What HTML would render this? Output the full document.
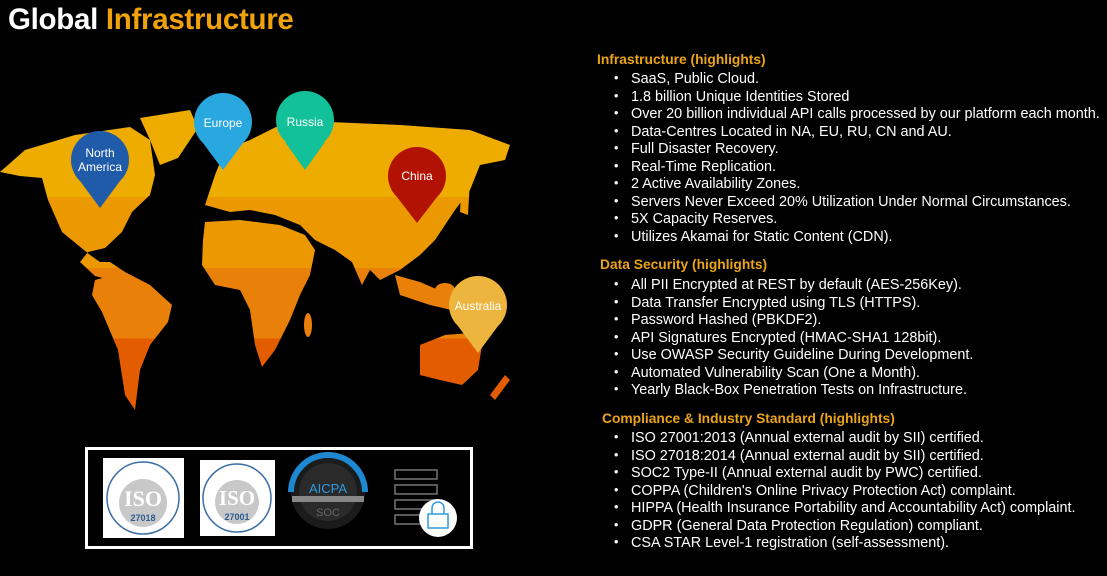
<!DOCTYPE html>
<html><head><meta charset="utf-8"><style>
body{margin:0;width:1107px;height:576px;background:#000;overflow:hidden;position:relative;font-family:"Liberation Sans",Arial,sans-serif;color:#fff}
.t{position:absolute;left:8px;top:3px;font-size:29.5px;font-weight:bold;letter-spacing:-0.3px}
.t span{color:#F0A20A}
.h{position:absolute;font-size:13.8px;font-weight:bold;color:#EBA318;white-space:nowrap}
ul{position:absolute;left:612px;margin:0;padding:0;list-style:none;font-size:14.4px;line-height:17.5px;white-space:nowrap}
li{position:relative;padding-left:19px}
li:before{content:"•";position:absolute;left:2px;top:-1px;font-size:12.5px;line-height:17.5px}
</style></head><body>
<div class="t">Global <span>Infrastructure</span></div>
<svg width="600" height="576" style="position:absolute;left:0;top:0">
<defs><linearGradient id="g" gradientUnits="userSpaceOnUse" x1="0" y1="80" x2="0" y2="420">
<stop offset="0" stop-color="#EFAC00"/><stop offset="0.344" stop-color="#EFAC00"/>
<stop offset="0.344" stop-color="#EC9800"/><stop offset="0.553" stop-color="#EC9800"/>
<stop offset="0.553" stop-color="#E8800A"/><stop offset="0.76" stop-color="#E8800A"/>
<stop offset="0.76" stop-color="#E35C00"/><stop offset="1" stop-color="#E35C00"/></linearGradient></defs>
<g fill="url(#g)">
<path d="M0,172 L25,150 L75,135 L130,127 L150,140 L155,175 L150,195 L132,212 L122,232 L105,248 L88,252 L80,262 L95,276 L118,282 L125,272 L110,262 L100,262 L90,255 L62,232 L48,200 L42,178 L20,176 Z"/>
<path d="M140,118 L190,110 L198,128 L178,158 L160,165 L150,140 Z"/>
<path d="M95,280 L125,272 L150,285 L172,305 L168,322 L150,345 L140,370 L135,410 L125,395 L118,350 L102,312 L92,295 Z"/>
<path d="M205,205 L215,175 L225,150 L250,140 L280,125 L330,122 L400,125 L470,130 L510,145 L505,160 L480,165 L470,190 L455,210 L445,225 L435,240 L420,255 L400,270 L380,280 L370,270 L362,285 L352,262 L335,250 L315,240 L300,225 L275,215 L250,210 L230,212 Z"/>
<path d="M205,222 L240,220 L280,225 L305,235 L315,250 L310,275 L300,295 L290,320 L275,350 L262,367 L255,345 L250,310 L240,290 L215,285 L202,265 L203,240 Z"/>
<ellipse cx="308" cy="325" rx="4" ry="12"/>
<path d="M395,275 L420,282 L450,295 L460,312 L430,305 L400,295 Z"/>
<ellipse cx="445" cy="290" rx="10" ry="7"/>
<path d="M420,345 L445,335 L470,333 L482,345 L478,370 L462,385 L440,380 L420,375 Z"/>
<path d="M490,395 L505,375 L510,380 L495,400 Z"/>
<path d="M462,175 L470,180 L468,215 L460,212 Z"/>
</g>
<g font-size="12" text-anchor="middle" fill="#fff">
<path d="M80,181 L120,181 L100,208 Z" fill="#1F5BA8"/><circle cx="100" cy="160" r="29" fill="#1F5BA8"/>
<text x="100" y="157">North</text><text x="100" y="171">America</text>
<path d="M203,143 L243,143 L223,170 Z" fill="#29A8E0"/><circle cx="223" cy="122" r="29" fill="#29A8E0"/><text x="223" y="127">Europe</text>
<path d="M285,142 L325,142 L305,170 Z" fill="#12C19A"/><circle cx="305" cy="120" r="29" fill="#12C19A"/><text x="305" y="126">Russia</text>
<path d="M397,197 L437,197 L417,223 Z" fill="#B11203"/><circle cx="417" cy="176" r="29" fill="#B11203"/><text x="417" y="180">China</text>
<path d="M458,326 L498,326 L478,353 Z" fill="#EDB53D"/><circle cx="478" cy="305" r="29" fill="#EDB53D"/><text x="478" y="310">Australia</text>
</g>
<rect x="86.5" y="448.5" width="385" height="99" fill="#000" stroke="#fff" stroke-width="3"/>
<rect x="103" y="458" width="81" height="80" fill="#fff"/>
<circle cx="143" cy="498" r="36" fill="none" stroke="#3A6EA5" stroke-width="1.5"/>
<circle cx="143" cy="503" r="24" fill="#C8C8C8"/>
<text x="143" y="506" font-size="22" font-weight="bold" fill="#fff" text-anchor="middle" font-family="Liberation Serif">ISO</text>
<text x="143" y="521" font-size="9" font-weight="bold" fill="#2B5C8F" text-anchor="middle">27018</text>
<rect x="200" y="460" width="75" height="76" fill="#fff"/>
<circle cx="237" cy="498" r="34" fill="none" stroke="#3A6EA5" stroke-width="1.5"/>
<circle cx="237" cy="502" r="22" fill="#C8C8C8"/>
<text x="237" y="505" font-size="21" font-weight="bold" fill="#fff" text-anchor="middle" font-family="Liberation Serif">ISO</text>
<text x="237" y="520" font-size="9" font-weight="bold" fill="#2B5C8F" text-anchor="middle">27001</text>
<circle cx="328" cy="492" r="37" fill="#1B1B1B"/>
<path d="M291,492 A37,37 0 0 1 365,492" fill="none" stroke="#1E88D0" stroke-width="6"/>
<circle cx="328" cy="492" r="29" fill="#2a2a2a"/>
<text x="328" y="493" font-size="13" fill="#2E9BE0" text-anchor="middle">AICPA</text>
<rect x="292" y="496" width="72" height="6" fill="#888"/>
<text x="328" y="516" font-size="11" fill="#666" text-anchor="middle">SOC</text>
<g fill="none" stroke="#777" stroke-width="1.5"><rect x="395" y="470" width="42" height="9"/><rect x="395" y="485" width="42" height="9"/><rect x="395" y="500" width="42" height="9"/><rect x="395" y="515" width="42" height="9"/></g>
<circle cx="438" cy="518" r="19" fill="#fff"/>
<rect x="428" y="514" width="20" height="14" fill="none" stroke="#2E9BE0" stroke-width="1.5"/>
<path d="M432,514 V508 A6,6 0 0 1 444,508 V514" fill="none" stroke="#2E9BE0" stroke-width="1.5"/>
</svg>
<div class="h" style="left:597px;top:52px">Infrastructure (highlights)</div>
<ul style="top:71px">
<li>SaaS, Public Cloud.</li><li>1.8 billion Unique Identities Stored</li><li>Over 20 billion individual API calls processed by our platform each month.</li><li>Data-Centres Located in NA, EU, RU, CN and AU.</li><li>Full Disaster Recovery.</li><li>Real-Time Replication.</li><li>2 Active Availability Zones.</li><li>Servers Never Exceed 20% Utilization Under Normal Circumstances.</li><li>5X Capacity Reserves.</li><li>Utilizes Akamai for Static Content (CDN).</li>
</ul>
<div class="h" style="left:600px;top:257px">Data Security (highlights)</div>
<ul style="top:277px">
<li>All PII Encrypted at REST by default (AES-256Key).</li><li>Data Transfer Encrypted using TLS (HTTPS).</li><li>Password Hashed (PBKDF2).</li><li>API Signatures Encrypted (HMAC-SHA1 128bit).</li><li>Use OWASP Security Guideline During Development.</li><li>Automated Vulnerability Scan (One a Month).</li><li>Yearly Black-Box Penetration Tests on Infrastructure.</li>
</ul>
<div class="h" style="left:602px;top:411px">Compliance &amp; Industry Standard (highlights)</div>
<ul style="top:430px">
<li>ISO 27001:2013 (Annual external audit by SII) certified.</li><li>ISO 27018:2014 (Annual external audit by SII) certified.</li><li>SOC2 Type-II (Annual external audit by PWC) certified.</li><li>COPPA (Children's Online Privacy Protection Act) complaint.</li><li>HIPPA (Health Insurance Portability and Accountability Act) complaint.</li><li>GDPR (General Data Protection Regulation) compliant.</li><li>CSA STAR Level-1 registration (self-assessment).</li>
</ul>
</body></html>
